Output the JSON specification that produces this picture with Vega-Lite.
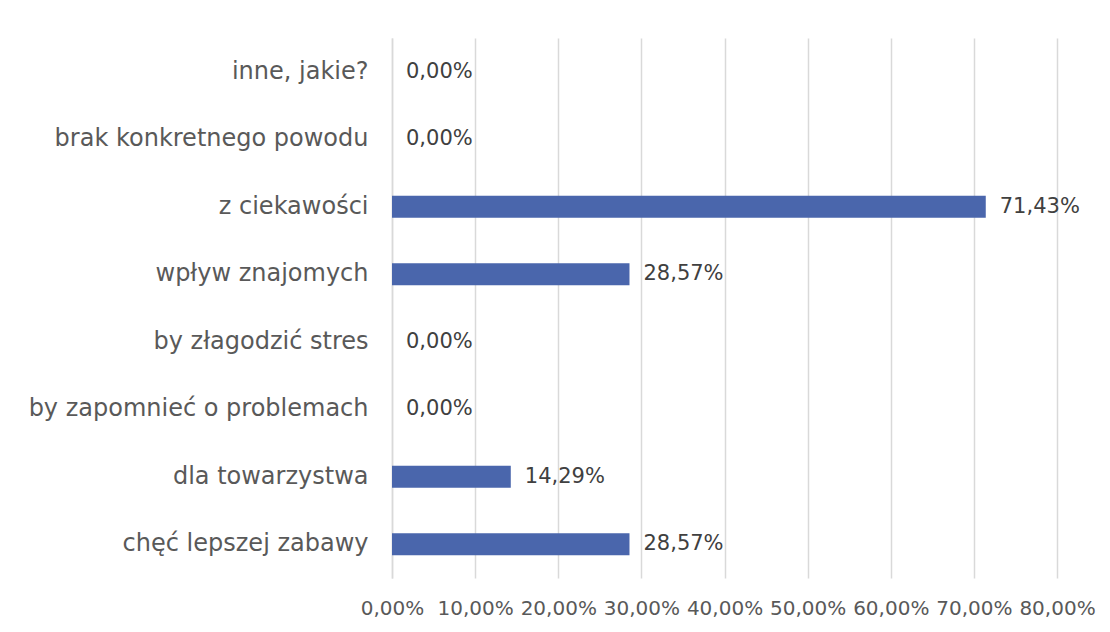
{
  "$schema": "https://vega.github.io/schema/vega-lite/v6.json",
  "autosize": "none",
  "width": 665,
  "height": 540,
  "padding": {"left": 392, "top": 38, "right": 53, "bottom": 54},
  "background": "white",
  "config": {
    "locale": {"number": {"decimal": ",", "thousands": " ", "grouping": [3], "currency": ["", " zł"]}},
    "view": {"stroke": null},
    "font": "DejaVu Sans"
  },
  "data": {
    "values": [
      {"category": "inne, jakie?", "value": 0},
      {"category": "brak konkretnego powodu", "value": 0},
      {"category": "z ciekawości", "value": 0.7143},
      {"category": "wpływ znajomych", "value": 0.2857},
      {"category": "by złagodzić stres", "value": 0},
      {"category": "by zapomnieć o problemach", "value": 0},
      {"category": "dla towarzystwa", "value": 0.1429},
      {"category": "chęć lepszej zabawy", "value": 0.2857}
    ]
  },
  "encoding": {
    "y": {
      "field": "category",
      "type": "nominal",
      "sort": null,
      "scale": {"paddingInner": 0.675, "paddingOuter": 0.3375},
      "axis": {
        "title": null,
        "ticks": false,
        "domain": true,
        "domainColor": "#d9d9d9",
        "domainWidth": 1.5,
        "labelFont": "DejaVu Sans",
        "labelFontSize": 24,
        "labelColor": "#595959",
        "labelPadding": 24,
        "labelLimit": 400
      }
    },
    "x": {
      "field": "value",
      "type": "quantitative",
      "scale": {"domain": [0, 0.8], "nice": false},
      "axis": {
        "title": null,
        "format": ".2%",
        "values": [0, 0.1, 0.2, 0.3, 0.4, 0.5, 0.6, 0.7, 0.8],
        "ticks": false,
        "domain": false,
        "grid": true,
        "gridColor": "#d9d9d9",
        "gridWidth": 1.5,
        "labelFont": "DejaVu Sans",
        "labelFontSize": 20,
        "labelColor": "#595959",
        "labelPadding": 20,
        "labelFlush": false,
        "labelOverlap": false
      }
    }
  },
  "layer": [
    {"mark": {"type": "bar", "color": "#4a66ac"}},
    {
      "mark": {"type": "text", "align": "left", "baseline": "middle", "dx": 14, "fontSize": 21, "color": "#404040", "font": "DejaVu Sans"},
      "encoding": {"text": {"field": "value", "type": "quantitative", "format": ".2%"}}
    }
  ]
}
